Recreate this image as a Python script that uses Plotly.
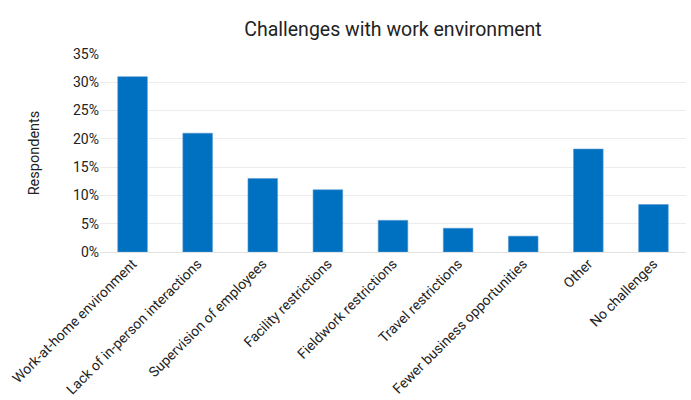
import plotly.graph_objects as go

# Share of respondents reporting each work-environment challenge
categories = [
    "Work-at-home environment",
    "Lack of in-person interactions",
    "Supervision of employees",
    "Facility restrictions",
    "Fieldwork restrictions",
    "Travel restrictions",
    "Fewer business opportunities",
    "Other",
    "No challenges",
]
share_pct = [31.0, 21.0, 13.0, 11.0, 5.6, 4.2, 2.8, 18.2, 8.4]
y_ticks = [0, 5, 10, 15, 20, 25, 30, 35]
y_tick_labels = [f"{t}%" for t in y_ticks]

BAR_BLUE = "#0070C0"
GRID = "#ececec"
TEXT = "#222222"
FONT = "Roboto"

fig = go.Figure(
    go.Bar(
        x=categories,
        y=share_pct,
        marker=dict(color=BAR_BLUE, line=dict(color="#5b9bd5", width=0.6)),
        hovertemplate="%{x}: %{y}%<extra></extra>",
    )
)

fig.update_layout(
    width=691,
    height=400,
    margin=dict(l=100, r=5, t=54, b=148, autoexpand=False),
    paper_bgcolor="white",
    plot_bgcolor="white",
    bargap=0.545,
    showlegend=False,
    font=dict(family=FONT, size=14, color=TEXT),
    title=dict(
        text="Challenges with work environment",
        x=0.5,
        xref="paper",
        xanchor="center",
        y=0.945,
        yref="container",
        font=dict(family=FONT, size=19.5, color=TEXT),
    ),
)

fig.update_xaxes(
    tickangle=-45,
    tickfont=dict(family=FONT, size=14, color=TEXT),
    showgrid=False,
    showline=False,
    ticks="",
    automargin=False,
)
fig.update_yaxes(
    range=[0, 35],
    tickvals=y_ticks,
    ticktext=y_tick_labels,
    tickfont=dict(family=FONT, size=14, color=TEXT),
    showgrid=True,
    gridcolor=GRID,
    gridwidth=1,
    zeroline=True,
    zerolinecolor="#e2e2e2",
    zerolinewidth=1,
    ticks="",
    ticklen=0,
    automargin=False,
    title=dict(text="Respondents", font=dict(family=FONT, size=14.5, color=TEXT), standoff=29),
)

fig.write_html("out.html")
